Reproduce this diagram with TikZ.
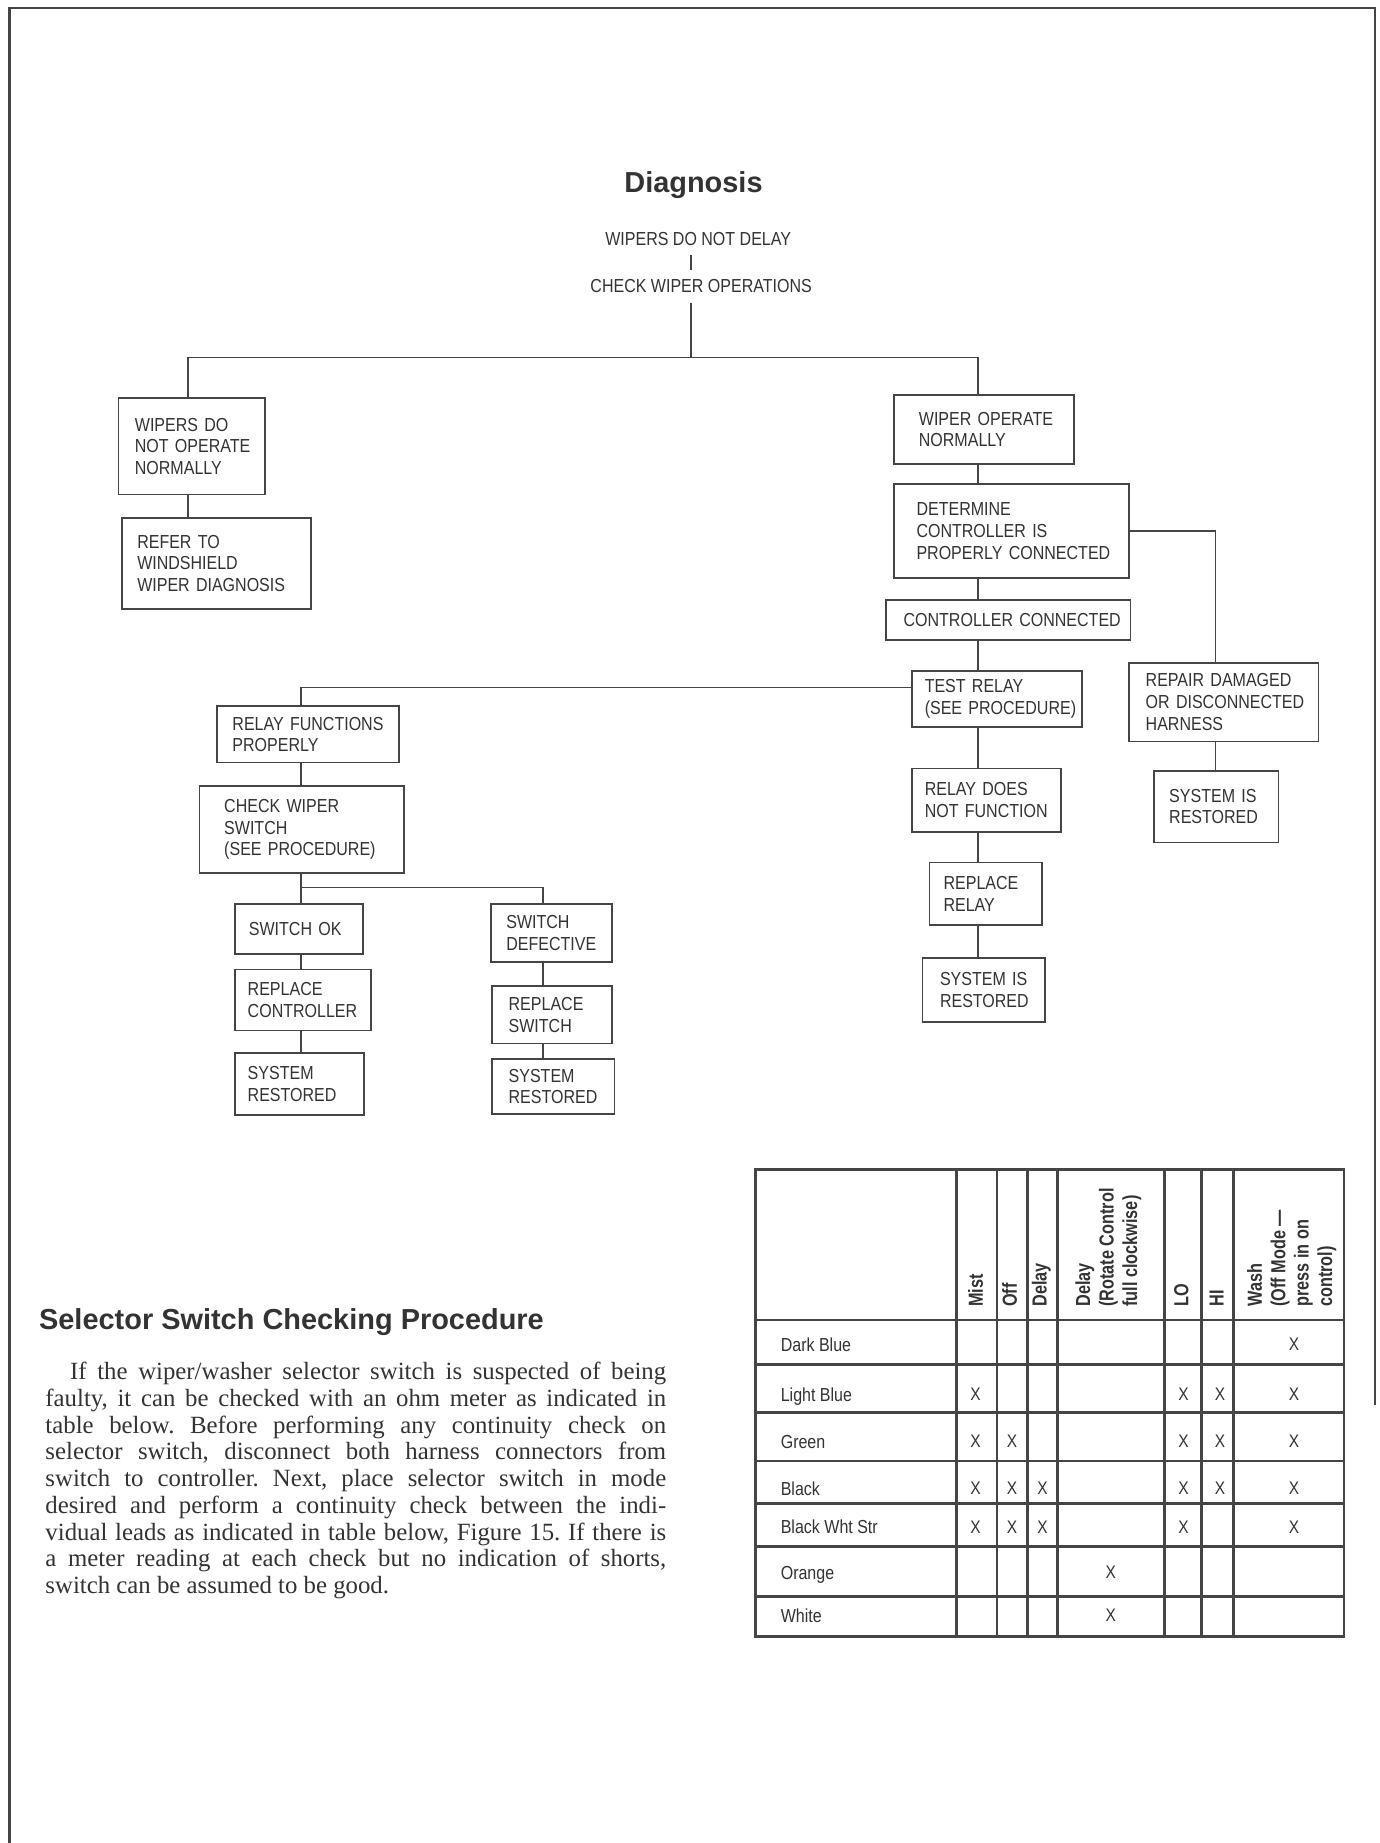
\documentclass[tikz,border=0pt]{standalone}
\usepackage{fontspec}
\setmainfont{Liberation Serif}
\newfontfamily\boxfont[FakeStretch=0.85]{Liberation Sans}
\newfontfamily\hdrfont[FakeStretch=0.8]{Liberation Sans}
\newfontfamily\headfont{Liberation Sans}
\usetikzlibrary{calc}
\definecolor{ink}{gray}{0.2}
\definecolor{rulec}{gray}{0.27}
\hyphenpenalty=10000
\exhyphenpenalty=10000
\uchyph=0
\newcommand{\nohyph}{\hyphenpenalty=10000 \exhyphenpenalty=10000 \uchyph=0 }
\newcommand{\flowbox}[7]{\node[box, minimum width=#4*0.025cm, minimum height=#5*0.025cm,
  inner xsep=#6*0.025cm, text width=(#4-2*#6)*0.025cm] (#1) at (#2,#3) {#7};}
\begin{document}
\begin{tikzpicture}[x=0.025cm, y=-0.025cm,
  box/.style={draw=rulec, line width=1.1pt, text=ink, align=left, inner ysep=0pt, anchor=north west,
    font=\boxfont\fontsize{11.4}{13.1}\selectfont\nohyph},
  conn/.style={draw=rulec, line width=1.0pt},
  toptext/.style={text=ink, inner xsep=0pt, inner ysep=0.2cm, anchor=base,
    font=\boxfont\fontsize{11.4}{13.1}\selectfont},
  heading/.style={text=ink, inner sep=0pt, font=\headfont\bfseries\fontsize{17.5}{20}\selectfont},
  colhead/.style={text=ink, inner sep=0pt, rotate=90, anchor=west, align=left,
    font=\hdrfont\bfseries\fontsize{12.3}{14.2}\selectfont},
  rowlabel/.style={text=ink, inner sep=0pt, anchor=base west, font=\boxfont\fontsize{11.4}{13.1}\selectfont},
  xmark/.style={text=ink, inner sep=0pt, font=\boxfont\fontsize{11}{13}\selectfont},
  tabline/.style={draw=rulec, line width=1.7pt}
]
\useasboundingbox (0,0) rectangle (1174,1568);

% page frame
\draw[rulec, line width=1.4pt] (8,1568) -- (8,7) -- (1170,7) -- (1170,1195);

% ---------- Diagnosis ----------
\node[heading, anchor=base] (diag) at (590,164) {Diagnosis};
\node[toptext] (t1) at (594,208.5) {WIPERS DO NOT DELAY};
\node[toptext] (t2) at (596.5,249) {CHECK WIPER OPERATIONS};

\flowbox{A}{100}{338}{125}{82}{14}{WIPERS~DO\\NOT~OPERATE\\NORMALLY}
\flowbox{B}{103}{440}{161}{77}{13}{REFER~TO\\WINDSHIELD\\WIPER~DIAGNOSIS}
\flowbox{C}{760}{335}{153}{59}{21}{WIPER~OPERATE\\NORMALLY}
\flowbox{D}{760}{411}{200}{80}{19}{DETERMINE\\CONTROLLER~IS\\PROPERLY~CONNECTED}
\flowbox{E}{753}{510}{208}{34}{15}{CONTROLLER~CONNECTED}
\flowbox{F}{775}{570}{145}{48}{11}{TEST~RELAY\\(SEE~PROCEDURE)}
\flowbox{R}{960}{563}{161}{67}{14}{REPAIR~DAMAGED\\OR~DISCONNECTED\\HARNESS}
\flowbox{S}{981}{655}{106}{61}{13}{SYSTEM~IS\\RESTORED}
\flowbox{G}{775}{653}{127}{54}{11}{RELAY~DOES\\NOT~FUNCTION}
\flowbox{H}{790}{733}{96}{53}{12}{REPLACE\\RELAY}
\flowbox{I}{784}{814}{104}{55}{15}{SYSTEM~IS\\RESTORED}
\flowbox{J}{184}{600}{155}{48}{13}{RELAY~FUNCTIONS\\PROPERLY}
\flowbox{K}{169}{668}{174}{74}{21}{CHECK~WIPER\\SWITCH\\(SEE~PROCEDURE)}
\flowbox{L}{199}{768}{109}{43}{12}{SWITCH~OK}
\flowbox{M}{199}{824}{116}{52}{11}{REPLACE\\CONTROLLER}
\flowbox{N}{199}{895}{110}{53}{11}{SYSTEM\\RESTORED}
\flowbox{P}{417}{768}{103}{50}{13}{SWITCH\\DEFECTIVE}
\flowbox{Q}{418}{838}{102}{49}{14}{REPLACE\\SWITCH}
\flowbox{T}{418}{900}{104}{47}{14}{SYSTEM\\RESTORED}

% trunk coordinates
\coordinate (xt) at (588,0);
\coordinate (xl) at (160,0);
\coordinate (xr) at (832,0);
\coordinate (xs) at (1034,0);
\coordinate (xj) at (256,0);
\coordinate (xp) at (462,0);
\coordinate (yb) at (0,304);
\coordinate (yF) at (0,585);
\coordinate (yK) at (0,755);

\draw[conn] (t1.south -| xt) -- (t2.north -| xt);
\draw[conn] (t2.south -| xt) -- (xt |- yb);
\draw[conn] (A.north -| xl) -- (xl |- yb) -- (xr |- yb) -- (C.north -| xr);
\draw[conn] (A.south -| xl) -- (B.north -| xl);
\draw[conn] (C.south -| xr) -- (D.north -| xr);
\draw[conn] (D.south -| xr) -- (E.north -| xr);
\draw[conn] (E.south -| xr) -- (F.north -| xr);
\draw[conn] (F.south -| xr) -- (G.north -| xr);
\draw[conn] (G.south -| xr) -- (H.north -| xr);
\draw[conn] (H.south -| xr) -- (I.north -| xr);
\draw[conn] (D.east) -- (xs |- D.east) -- (R.north -| xs);
\draw[conn] (R.south -| xs) -- (S.north -| xs);
\draw[conn] (F.west |- yF) -- (xj |- yF) -- (J.north -| xj);
\draw[conn] (J.south -| xj) -- (K.north -| xj);
\draw[conn] (K.south -| xj) -- (L.north -| xj);
\draw[conn] (xj |- yK) -- (xp |- yK) -- (P.north -| xp);
\draw[conn] (L.south -| xj) -- (M.north -| xj);
\draw[conn] (M.south -| xj) -- (N.north -| xj);
\draw[conn] (P.south -| xp) -- (Q.north -| xp);
\draw[conn] (Q.south -| xp) -- (T.north -| xp);

% ---------- Selector switch text ----------
\node[heading, anchor=base west] (selhead) at (33,1131) {Selector Switch Checking Procedure};
\node[inner sep=0pt, anchor=north west, text=ink] (para) at (38.4,1158.5) {\fontsize{15}{16.2}\selectfont\frenchspacing\vbox{\hsize=13.2cm
\hbox to\hsize{\hskip0.525cm If the wiper/washer selector switch is suspected of being}
\hbox to\hsize{faulty, it can be checked with an ohm meter as indicated in}
\hbox to\hsize{table below. Before performing any continuity check on}
\hbox to\hsize{selector switch, disconnect both harness connectors from}
\hbox to\hsize{switch to controller. Next, place selector switch in mode}
\hbox to\hsize{desired and perform a continuity check between the indi-}
\hbox to\hsize{vidual leads as indicated in table below, Figure 15. If there is}
\hbox to\hsize{a meter reading at each check but no indication of shorts,}
\hbox{switch can be assumed to be good.}}};

% ---------- Table ----------
\draw[tabline] (643,995) rectangle (1143.4,1392);
\foreach \cx in {813.5,848.3,874.4,899.7,990.6,1021.9,1049.7}
  \draw[tabline] (\cx,995) -- (\cx,1392);
\foreach \ry in {1123,1161,1202,1243,1279,1316,1358}
  \draw[tabline] (643,\ry) -- (1143.4,\ry);

\node[colhead] (h1) at (830,1112) {Mist};
\node[colhead] (h2) at (859,1112) {Off};
\node[colhead] (h3) at (886,1112) {Delay};
\node[colhead] (h4) at (943,1112) {Delay\\(Rotate Control\\full clockwise)};
\node[colhead] (h5) at (1005,1112) {LO};
\node[colhead] (h6) at (1035,1112) {HI};
\node[colhead] (h7) at (1099,1112) {Wash\\(Off Mode —\\press in on\\control)};

\node[rowlabel] (r1) at (664,1150) {Dark Blue};
\node[rowlabel] (r2) at (664,1192) {Light Blue};
\node[rowlabel] (r3) at (664,1232) {Green};
\node[rowlabel] (r4) at (664,1272) {Black};
\node[rowlabel] (r5) at (664,1305) {Black Wht Str};
\node[rowlabel] (r6) at (664,1344) {Orange};
\node[rowlabel] (r7) at (664,1380) {White};

\foreach \mx/\my [count=\k] in {
  1101/1144,
  830/1186, 1007/1186, 1038/1186, 1101/1186,
  830/1226, 861/1226, 1007/1226, 1038/1226, 1101/1226,
  830/1266, 861/1266, 887/1266, 1007/1266, 1038/1266, 1101/1266,
  830/1299, 861/1299, 887/1299, 1007/1299, 1101/1299,
  945/1338,
  945/1374}
  \node[xmark] (x\k) at (\mx,\my) {X};
\end{tikzpicture}
\end{document}
